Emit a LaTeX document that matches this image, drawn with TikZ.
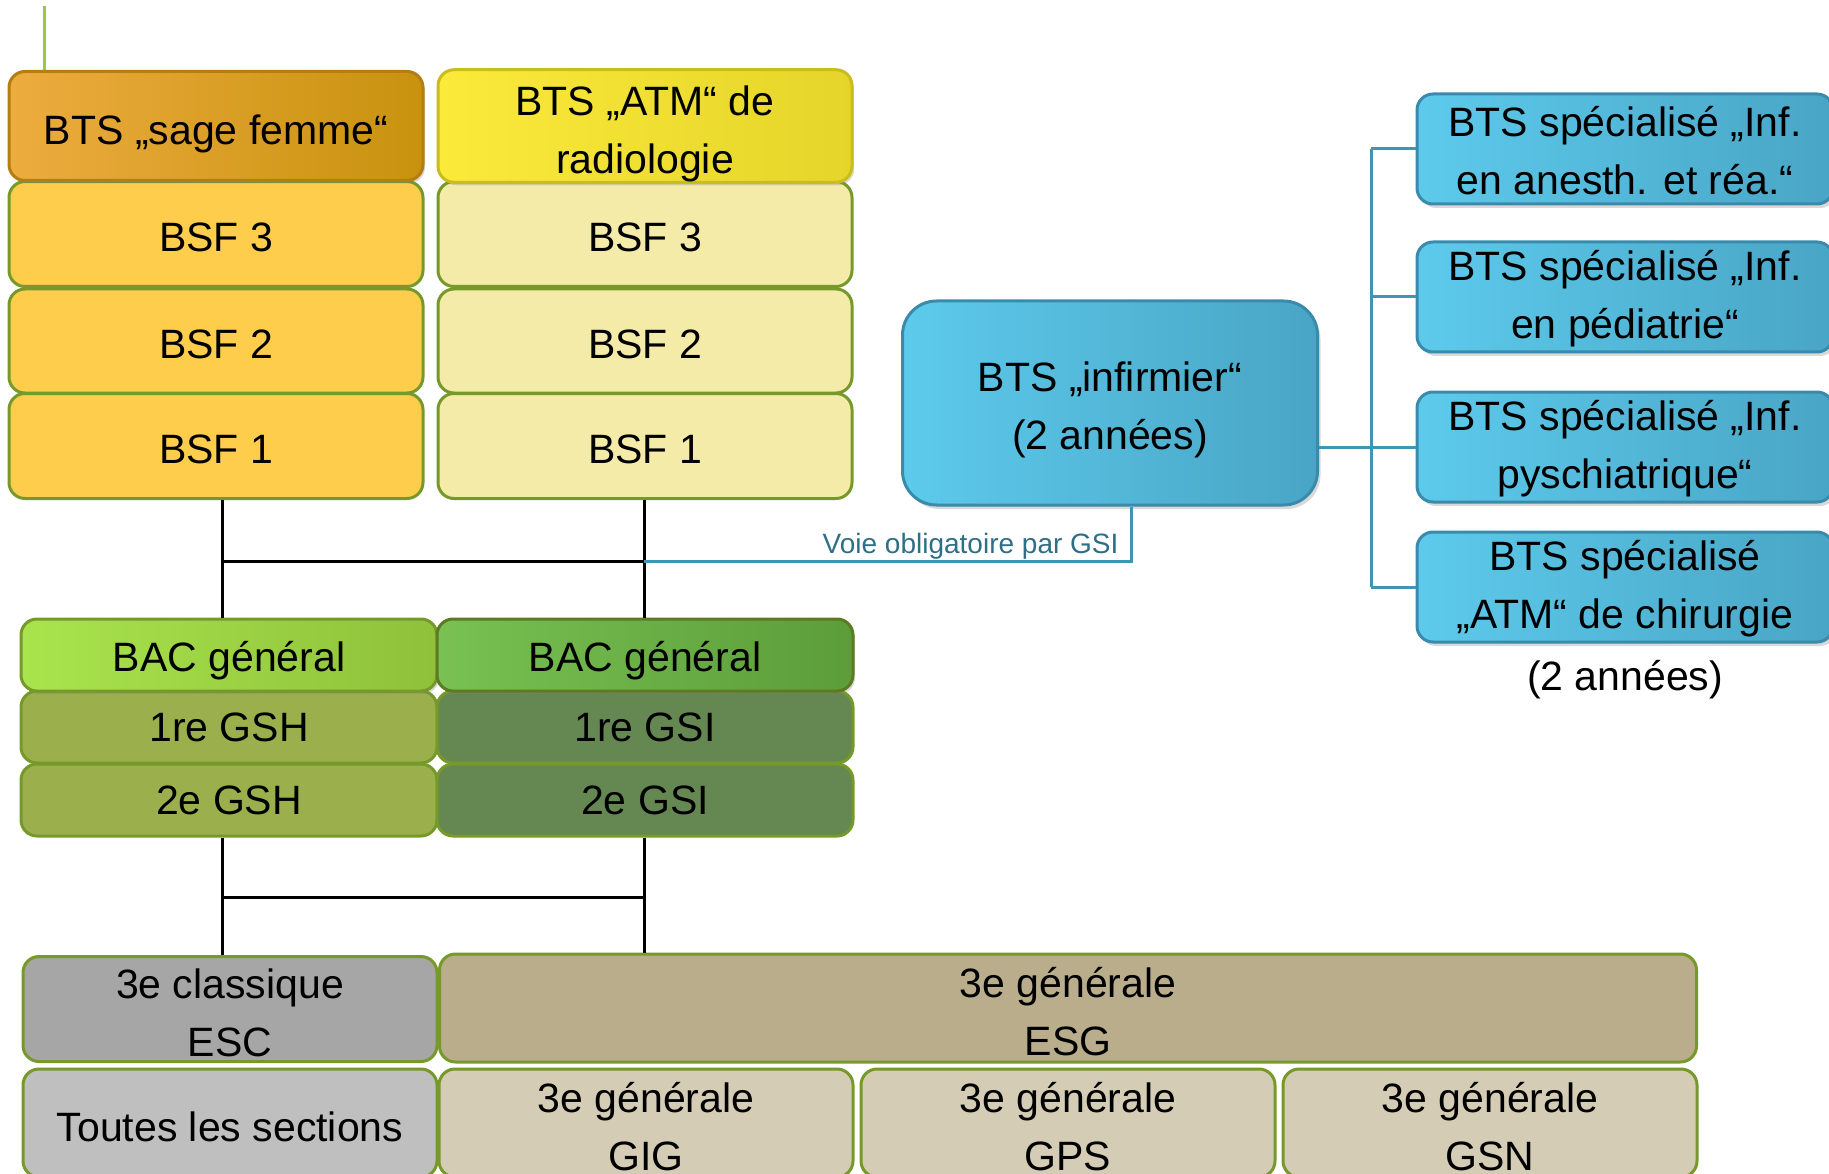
\documentclass[tikz,border=0pt]{standalone}
\usepackage{fontspec}
\setmainfont{Liberation Sans}
\usetikzlibrary{shadows,calc}

\definecolor{bordgreen}{HTML}{76992A}
\definecolor{orangeA}{HTML}{EDAC3F}
\definecolor{orangeB}{HTML}{C8920E}
\definecolor{orangeD}{HTML}{B47E10}
\definecolor{yellowA}{HTML}{FBEA3A}
\definecolor{yellowB}{HTML}{E5D52A}
\definecolor{yellowD}{HTML}{C9BD1E}
\definecolor{bsfA}{HTML}{FFCD4C}
\definecolor{bsfB}{HTML}{F4EBA8}
\definecolor{bacA}{HTML}{A9E44D}
\definecolor{bacAb}{HTML}{8FC13A}
\definecolor{bacB}{HTML}{78C152}
\definecolor{bacBb}{HTML}{5C9D3A}
\definecolor{gshfill}{HTML}{9BB04C}
\definecolor{gsifill}{HTML}{658752}
\definecolor{escfill}{HTML}{A6A6A6}
\definecolor{esgfill}{HTML}{B9AD8C}
\definecolor{allfill}{HTML}{BFBFBF}
\definecolor{gfill}{HTML}{D4CCB5}
\definecolor{blueA}{HTML}{5DCAEC}
\definecolor{blueB}{HTML}{49A5C5}
\definecolor{blueD}{HTML}{3A8BAB}
\definecolor{blueline}{HTML}{3F96B3}
\definecolor{voietext}{HTML}{2E6F87}
\definecolor{limeA}{HTML}{9DC73F}

% a strut that pushes the first line down
\newcommand{\tup}[1]{\rule{0pt}{#1}}

\begin{document}
\begin{tikzpicture}[x=1pt,y=-1pt,
    box/.style={draw=bordgreen,line width=3pt,rounded corners=16pt,
        minimum width=414pt,inner sep=0pt,align=center,
        font=\fontsize{41}{58}\selectfont},
    hdr/.style={box,drop shadow={opacity=.3,shadow xshift=2pt,shadow yshift=-3pt}},
    blu/.style={box,draw=blueD,left color=blueA,right color=blueB,
        drop shadow={opacity=.3,shadow xshift=3pt,shadow yshift=-4pt}},
    link/.style={line width=3pt},
    tlink/.style={line width=3pt,draw=blueline}]

    \useasboundingbox (0,0) rectangle (1829,1174);

    % the texts

    \node[box,fill=bsfA,minimum height=105pt] (bsfA3) at (216,234) {\tup{35pt}BSF 3};
    \node[box,fill=bsfA,minimum height=104pt] (bsfA2) at (216,341) {\tup{35pt}BSF 2};
    \node[box,fill=bsfA,minimum height=105pt] (bsfA1) at (216,446) {\tup{35pt}BSF 1};
    \node[box,fill=bsfB,minimum height=105pt] (bsfB3) at (645,234) {\tup{35pt}BSF 3};
    \node[box,fill=bsfB,minimum height=104pt] (bsfB2) at (645,341) {\tup{35pt}BSF 2};
    \node[box,fill=bsfB,minimum height=105pt] (bsfB1) at (645,446) {\tup{35pt}BSF 1};
    \node[hdr,draw=orangeD,left color=orangeA,right color=orangeB,
        minimum height=109pt] (sage) at (216,126) {\tup{46pt}BTS „sage femme“};
    \node[hdr,draw=yellowD,left color=yellowA,right color=yellowB,
        minimum height=109pt] (radio) at (645,126) {\tup{46pt}BTS „ATM“ de\\radiologie};

    \node[blu,rounded corners=34pt,minimum width=415pt,minimum height=204pt]
    (inf) at (1110,403) {\tup{44pt}BTS „infirmier“\\(2 années)};
    \node[blu,minimum width=416pt,minimum height=110pt]
    (spA) at (1625,149) {\tup{34pt}BTS spécialisé „Inf.\\en anesth. et réa.“};
    \node[blu,minimum width=416pt,minimum height=110pt]
    (spB) at (1625,297) {\tup{34pt}BTS spécialisé „Inf.\\en pédiatrie“};
    \node[blu,minimum width=416pt,minimum height=110pt]
    (spC) at (1625,447) {\tup{34pt}BTS spécialisé „Inf.\\pyschiatrique“};
    \node[blu,minimum width=416pt,minimum height=110pt]
    (spD) at (1625,587) {\tup{34pt}BTS spécialisé\\„ATM“ de chirurgie};
    \node[font=\fontsize{41}{58}\selectfont] (dur) at (1625,680) {(2 années)};

    \node[box,fill=gshfill,minimum width=416pt,minimum height=72pt] (gsh1) at (229,727) {1re GSH};
    \node[box,fill=gshfill,minimum width=416pt,minimum height=72pt] (gsh2) at (229,800) {2e GSH};
    \node[box,fill=gsifill,minimum width=416pt,minimum height=72pt] (gsi1) at (645,727) {1re GSI};
    \node[box,fill=gsifill,minimum width=416pt,minimum height=72pt] (gsi2) at (645,800) {2e GSI};
    \node[hdr,draw=bordgreen,left color=bacA,right color=bacAb,minimum width=416pt,
        minimum height=72pt] (bacA) at (229,655) {\tup{42pt}BAC général};
    \node[hdr,draw=bordgreen!80!black,left color=bacB,right color=bacBb,minimum width=416pt,
        minimum height=72pt] (bacB) at (645,655) {\tup{42pt}BAC général};

    \node[box,fill=escfill,minimum height=105pt] (esc) at (230,1009) {\tup{37pt}3e classique\\ESC};
    \node[box,fill=esgfill,minimum width=1257pt,minimum height=108pt] (esg) at (1068,1008) {\tup{37pt}3e générale\\ESG};
    \node[box,fill=allfill,minimum height=108pt] (all) at (230,1123) {\tup{37pt}Toutes les sections};
    \node[box,fill=gfill,minimum height=108pt] (gig) at (646,1123) {\tup{37pt}3e générale\\GIG};
    \node[box,fill=gfill,minimum height=108pt] (gps) at (1068,1123) {\tup{37pt}3e générale\\GPS};
    \node[box,fill=gfill,minimum height=108pt] (gsn) at (1490,1123) {\tup{37pt}3e générale\\GSN};

    % the lines

    \coordinate (la) at (222,0);
    \coordinate (lb) at (644,0);
    \coordinate (ma) at (0,561);
    \coordinate (mb) at (0,897);
    \coordinate (voie) at (1131,561);
    \coordinate (tr) at (1371,0);
    \coordinate (gl) at (44,6);

    \draw[line width=3pt,draw=limeA] (gl) to (gl |- sage.north);

    \draw[link] (bsfA1.south -| la) to (bacA.north -| la);
    \draw[link] (bsfB1.south -| lb) to (bacB.north -| lb);
    \draw[link] (la |- ma) to (lb |- ma);
    \draw[tlink] (lb |- ma) -- (voie) -- (voie |- inf.south);
    \node[font=\fontsize{28}{34}\selectfont,text=voietext,anchor=base east]
    (vlab) at ($(voie)+(-9,-8)$) {Voie obligatoire par GSI};

    \draw[link] (gsh2.south -| la) to (esc.north -| la);
    \draw[link] (gsi2.south -| lb) to (esg.north -| lb);
    \draw[link] (la |- mb) to (lb |- mb);

    \draw[tlink] (inf.east |- spC.west) to (spC.west);
    \draw[tlink] (tr |- spA.west) to (tr |- spD.west);
    \foreach \s in {spA,spB,spD}
    \draw[tlink] (tr |- \s.west) to (\s.west);
  \end{tikzpicture}
\end{document}
